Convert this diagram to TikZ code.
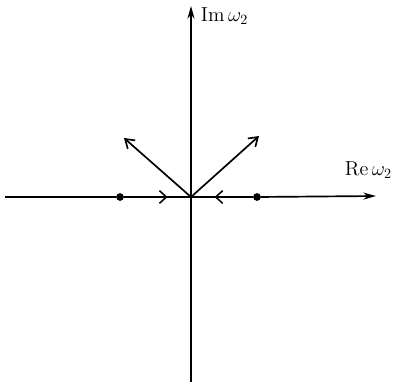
\documentclass[tikz,border=0pt]{standalone}
\usetikzlibrary{arrows.meta,decorations.markings}
\begin{document}
\begin{tikzpicture}[x=0.025cm,y=-0.025cm,
  axis/.style={line width=1.2pt,-{Stealth[length=9pt,width=5pt]}},
  ray/.style={line width=1.2pt,-{Straight Barb[length=6pt,width=8pt]}},
  pt/.style={circle,fill=black,inner sep=0pt,minimum size=5.5pt},
  midchev/.style={postaction={decorate},decoration={markings,mark=at position #1 with {\arrow{Straight Barb[length=5pt,width=9pt,line width=1.1pt]}}}},
  lbl/.style={font=\Large}]
\useasboundingbox (0,0) rectangle (400,382);
\coordinate (O) at (191,197);
\coordinate (W) at (5,197);
\coordinate (E) at (376,196);
\coordinate (S) at (191,382);
\coordinate (N) at (191,6);
\node[pt] (p1) at (120,197) {};
\node[pt] (p2) at (257,197) {};
\coordinate (A) at (124,138);
\coordinate (B) at (259,136);
\draw[line width=1.2pt] (W) -- (p1);
\draw[line width=1.2pt,midchev=0.65] (p1) -- (O);
\draw[line width=1.2pt,midchev=0.62] (p2) -- (O);
\draw[axis] (p2) -- (E);
\draw[axis] (S) -- (N);
\draw[ray] (O) -- (A);
\draw[ray] (O) -- (B);
\node[lbl,anchor=west] (im) at (196,16) {$\mathrm{Im}\,\omega_2$};
\node[lbl,anchor=west] (re) at (340,170) {$\mathrm{Re}\,\omega_2$};
\end{tikzpicture}
\end{document}
